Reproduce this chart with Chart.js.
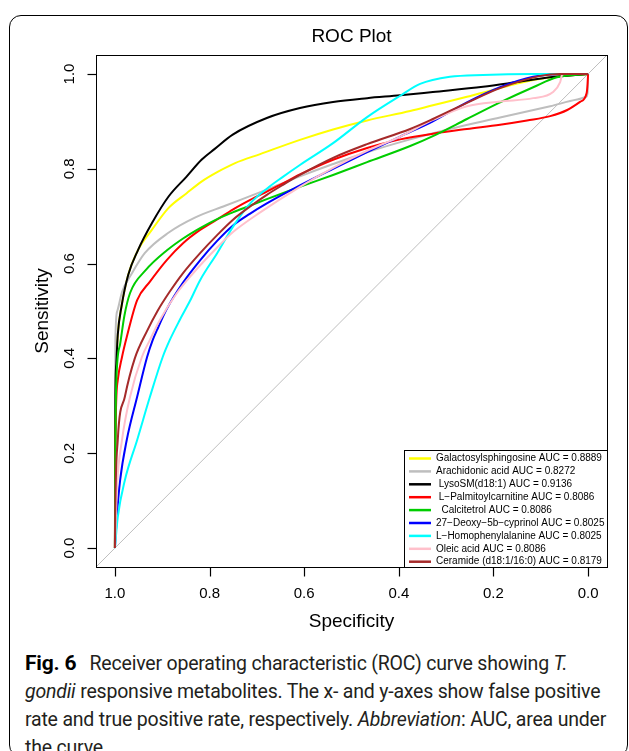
<!DOCTYPE html>
<html>
<head>
<meta charset="utf-8">
<script src="https://cdn.jsdelivr.net/npm/chart.js@4.4.0/dist/chart.umd.min.js"></script>
<style>
  html, body { margin: 0; padding: 0; background: #fff; }
  body { width: 629px; height: 751px; position: relative; overflow: hidden; }
  #frame {
    position: absolute; left: 9px; top: 15px; width: 619px; height: 742px;
    border: 1.3px solid #000; border-radius: 12px; box-sizing: border-box;
  }
  #roc { position: absolute; left: 0; top: 0; }
  #caption {
    position: absolute; left: 25px; top: 649px;
    font-family: Roboto, "Noto Sans", sans-serif; font-size: 19.5px; line-height: 28px;
    color: #231f20; white-space: nowrap; letter-spacing: -0.2px;
  }
  #caption b { font-weight: 700; color: #000; font-size: 21px; margin-right: 4px; }
</style>
</head>
<body>
<div id="frame"></div>
<canvas id="roc" width="629" height="640"></canvas>
<div id="caption">
  <div><b>Fig. 6</b>&nbsp; Receiver operating characteristic (ROC) curve showing <i>T.</i></div>
  <div><i>gondii</i> responsive metabolites. The x- and y-axes show false positive</div>
  <div>rate and true positive rate, respectively. <i>Abbreviation</i>: AUC, area under</div>
  <div>the curve</div>
</div>
<script>
// [specificity, sensitivity]
const galactosylsphingosine = [[1,0],[0.9995,0.2],[0.999,0.32],[0.997,0.39],[0.994,0.45],[0.986,0.51],[0.972,0.576],[0.951,0.629],[0.922,0.671],[0.887,0.717],[0.849,0.748],[0.817,0.773],[0.782,0.794],[0.746,0.812],[0.693,0.831],[0.609,0.861],[0.539,0.883],[0.467,0.902],[0.376,0.922],[0.328,0.934],[0.256,0.952],[0.201,0.966],[0.15,0.98],[0.08,0.993],[0,1]];
const arachidonicAcid = [[1,0],[0.9995,0.3],[0.999,0.44],[0.995,0.5],[0.985,0.54],[0.965,0.578],[0.937,0.622],[0.887,0.665],[0.831,0.697],[0.767,0.722],[0.679,0.756],[0.609,0.784],[0.539,0.81],[0.467,0.835],[0.376,0.862],[0.292,0.884],[0.186,0.908],[0.08,0.932],[0.023,0.946],[0.004,0.952],[0.001,0.96],[0,1]];
const lysoSM = [[1,0],[0.9995,0.2],[0.999,0.32],[0.997,0.39],[0.994,0.45],[0.986,0.51],[0.972,0.576],[0.951,0.629],[0.922,0.685],[0.887,0.741],[0.849,0.783],[0.817,0.819],[0.789,0.842],[0.751,0.872],[0.679,0.907],[0.609,0.928],[0.539,0.941],[0.467,0.949],[0.397,0.955],[0.328,0.962],[0.222,0.973],[0.15,0.983],[0.08,0.993],[0,1]];
const palmitoylcarnitine = [[1,0],[0.999,0.228],[0.994,0.354],[0.985,0.403],[0.975,0.445],[0.953,0.523],[0.926,0.562],[0.89,0.608],[0.856,0.643],[0.82,0.671],[0.784,0.693],[0.751,0.714],[0.715,0.734],[0.679,0.752],[0.651,0.766],[0.609,0.788],[0.539,0.819],[0.467,0.844],[0.397,0.862],[0.328,0.874],[0.256,0.884],[0.186,0.893],[0.129,0.902],[0.08,0.911],[0.044,0.924],[0.017,0.941],[0.003,0.96],[0.001,0.98],[0,1]];
const calcitetrol = [[1,0],[0.999,0.228],[0.997,0.354],[0.989,0.43],[0.98,0.49],[0.968,0.538],[0.935,0.586],[0.89,0.628],[0.856,0.653],[0.82,0.675],[0.784,0.694],[0.751,0.708],[0.715,0.722],[0.679,0.736],[0.609,0.762],[0.539,0.787],[0.467,0.814],[0.376,0.848],[0.328,0.869],[0.256,0.905],[0.186,0.94],[0.116,0.972],[0.066,0.993],[0,1]];
const deoxyCyprinol = [[1,0],[0.996,0.065],[0.989,0.143],[0.975,0.228],[0.953,0.319],[0.932,0.403],[0.92,0.439],[0.911,0.46],[0.89,0.505],[0.856,0.56],[0.82,0.607],[0.784,0.648],[0.751,0.68],[0.715,0.705],[0.679,0.727],[0.609,0.765],[0.539,0.8],[0.467,0.835],[0.397,0.868],[0.328,0.9],[0.256,0.94],[0.186,0.972],[0.116,0.994],[0.059,1],[0,1]];
const homophenylalanine = [[1,0],[0.994,0.065],[0.979,0.143],[0.953,0.228],[0.926,0.319],[0.899,0.403],[0.884,0.439],[0.863,0.481],[0.841,0.522],[0.82,0.565],[0.784,0.622],[0.751,0.677],[0.715,0.726],[0.679,0.758],[0.645,0.783],[0.609,0.808],[0.539,0.854],[0.467,0.909],[0.397,0.954],[0.355,0.979],[0.292,0.994],[0.222,0.998],[0.116,1],[0,1]];
const oleicAcid = [[1,0],[0.998,0.06],[0.996,0.122],[0.985,0.228],[0.968,0.319],[0.943,0.403],[0.926,0.439],[0.905,0.481],[0.869,0.538],[0.838,0.576],[0.782,0.636],[0.751,0.666],[0.693,0.708],[0.609,0.762],[0.539,0.802],[0.467,0.838],[0.397,0.868],[0.328,0.903],[0.256,0.932],[0.186,0.942],[0.116,0.949],[0.074,0.962],[0.059,0.983],[0.055,0.998],[0.05,1],[0,1]];
const ceramide = [[1,0],[0.9995,0.065],[0.994,0.228],[0.979,0.319],[0.958,0.4],[0.932,0.458],[0.91,0.5],[0.884,0.541],[0.856,0.58],[0.82,0.622],[0.784,0.66],[0.751,0.692],[0.715,0.72],[0.679,0.745],[0.645,0.766],[0.609,0.787],[0.539,0.823],[0.467,0.852],[0.376,0.884],[0.328,0.905],[0.256,0.939],[0.186,0.97],[0.101,0.996],[0.059,1],[0,1]];
const chanceLine = [[1.04,-0.04],[-0.04,1.04]];

const seriesNames = [
  "Galactosylsphingosine AUC = 0.8889",
  "Arachidonic acid AUC = 0.8272",
  " LysoSM(d18:1) AUC = 0.9136",
  " L\u2212Palmitoylcarnitine AUC = 0.8086",
  "  Calcitetrol AUC = 0.8086",
  "27\u2212Deoxy\u22125b\u2212cyprinol AUC = 0.8025",
  "L\u2212Homophenylalanine AUC = 0.8025",
  "Oleic acid AUC = 0.8086",
  "Ceramide (d18:1/16:0) AUC = 0.8179"
];
const seriesData = [galactosylsphingosine, arachidonicAcid, lysoSM, palmitoylcarnitine, calcitetrol,
                    deoxyCyprinol, homophenylalanine, oleicAcid, ceramide];
const seriesColors = ["#ffff00", "#bebebe", "#000000", "#ff0000", "#00cd00", "#0000ff", "#00ffff", "#ffc0cb", "#a52a2a"];

const xTicks = [1.0, 0.8, 0.6, 0.4, 0.2, 0.0];
const yTicks = [0.0, 0.2, 0.4, 0.6, 0.8, 1.0];

const FONT = '"Liberation Sans", Arial, Helvetica, sans-serif';
const TICK_LEN = 9;
Chart.defaults.font.family = FONT;
Chart.defaults.color = "#000";

function toPoints(arr) {
  return arr.map(p => ({ x: p[0], y: p[1] }));
}

const datasets = [{
  label: "chance",
  data: toPoints(chanceLine),
  showLine: true,
  borderColor: "#bebebe",
  borderWidth: 1,
  pointRadius: 0,
  order: 100
}];
seriesData.forEach((arr, i) => {
  datasets.push({
    label: seriesNames[i],
    data: toPoints(arr),
    showLine: true,
    borderColor: seriesColors[i],
    borderWidth: 2,
    pointRadius: 0,
    cubicInterpolationMode: "monotone",
    order: 20 - i
  });
});

// R style box around the plot region, with outward tick marks
const plotBox = {
  id: "plotBox",
  afterDraw(chart) {
    const { ctx, chartArea: a, scales } = chart;
    const l = Math.round(a.left) + 0.5, t = Math.round(a.top) + 0.5;
    const r = Math.round(a.right) + 0.5, b = Math.round(a.bottom) + 0.5;
    ctx.save();
    ctx.strokeStyle = "#000";
    ctx.lineWidth = 1;
    ctx.strokeRect(l, t, r - l, b - t);
    ctx.lineWidth = 1.2;
    xTicks.forEach(v => {
      const px = Math.round(scales.x.getPixelForValue(v)) + 0.5;
      ctx.beginPath();
      ctx.moveTo(px, b);
      ctx.lineTo(px, b + TICK_LEN);
      ctx.stroke();
    });
    yTicks.forEach(v => {
      const py = Math.round(scales.y.getPixelForValue(v)) + 0.5;
      ctx.beginPath();
      ctx.moveTo(l, py);
      ctx.lineTo(l - TICK_LEN, py);
      ctx.stroke();
    });
    ctx.restore();
  }
};

// legend in the bottom right corner, like legend("bottomright") in R
const cornerLegend = {
  id: "cornerLegend",
  afterDatasetsDraw(chart) {
    const { ctx, chartArea: a } = chart;
    const w = 203, h = 117, rowH = 12.9;
    const x0 = a.right - w, y0 = a.bottom - h;
    ctx.save();
    ctx.fillStyle = "#fff";
    ctx.fillRect(x0, y0, w, h);
    ctx.strokeStyle = "#000";
    ctx.lineWidth = 1;
    ctx.strokeRect(Math.round(x0) + 0.5, Math.round(y0) + 0.5, w, h);
    ctx.font = "10px " + FONT;
    ctx.textBaseline = "middle";
    seriesNames.forEach((name, i) => {
      const y = y0 + 8.5 + i * rowH;
      ctx.strokeStyle = seriesColors[i];
      ctx.lineWidth = 2.5;
      ctx.beginPath();
      ctx.moveTo(x0 + 5, y);
      ctx.lineTo(x0 + 27, y);
      ctx.stroke();
      ctx.fillStyle = "#000";
      ctx.fillText(name, x0 + 32, y);
    });
    ctx.restore();
  }
};

// tick marks are drawn by plotBox; the grid only reserves their length
const tickGrid = { drawOnChartArea: false, drawTicks: true, tickLength: TICK_LEN, color: "rgba(0,0,0,0)" };

new Chart(document.getElementById("roc"), {
  type: "scatter",
  data: { datasets },
  options: {
    responsive: false,
    animation: false,
    devicePixelRatio: 1,
    layout: { padding: { top: 15, right: 22, bottom: 0, left: 0 } },
    events: [],
    plugins: {
      legend: { display: false },
      tooltip: { enabled: false },
      title: {
        display: true,
        text: "ROC Plot",
        fullSize: false,
        color: "#000",
        font: { size: 19, weight: "normal" },
        padding: { top: 10.6, bottom: 6.6 }
      }
    },
    scales: {
      x: {
        type: "linear",
        reverse: true,
        min: -0.04,
        max: 1.04,
        afterBuildTicks: s => { s.ticks = xTicks.map(v => ({ value: v })); },
        afterFit: s => { s.height = 73; },
        grid: tickGrid,
        border: { display: false },
        ticks: {
          autoSkip: false, maxRotation: 0, padding: 9,
          font: { size: 15 }, color: "#000",
          callback: v => Number(v).toFixed(1)
        },
        title: { display: true, text: "Specificity", color: "#000", font: { size: 19 }, padding: { top: 0, bottom: 6.6 } }
      },
      y: {
        type: "linear",
        min: -0.04,
        max: 1.04,
        afterBuildTicks: s => { s.ticks = yTicks.map(v => ({ value: v })); },
        afterFit: s => { s.width = 96; },
        grid: tickGrid,
        border: { display: false },
        ticks: {
          autoSkip: false, minRotation: 90, maxRotation: 90, crossAlign: "center", padding: 6.6,
          font: { size: 15 }, color: "#000",
          callback: v => Number(v).toFixed(1)
        },
        title: { display: true, text: "Sensitivity", color: "#000", font: { size: 19 }, padding: { top: 31.6, bottom: 0 } }
      }
    }
  },
  plugins: [plotBox, cornerLegend]
});
</script>
</body>
</html>
